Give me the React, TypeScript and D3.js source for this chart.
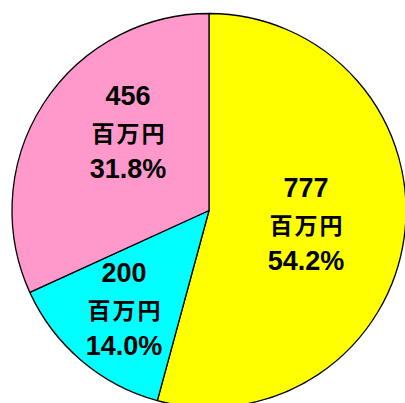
import React from "react";
import * as d3 from "d3";

const categories = ["A", "B", "C"];
const values = [777, 200, 456];
const valueLabels = ["777", "200", "456"];
const unitLabel = "百万円";
const percentLabels = ["54.2%", "14.0%", "31.8%"];
const colors = ["#FFFF00", "#00FFFF", "#FF99CC"];

// label anchor (center of middle line baseline) offsets from pie center
const labelOffsets: [number, number][] = [
  [97, 25],
  [-85, 110],
  [-81, -67],
];

const W = 405;
const H = 403;
const cx = 209;
const cy = 210.5;
const R = 197;

export default function App() {
  const pie = d3.pie<number>().sort(null).startAngle(0).endAngle(2 * Math.PI);
  const arcs = pie(values);
  const arc = d3.arc<d3.PieArcDatum<number>>().innerRadius(0).outerRadius(R);
  const numFont = "'Liberation Sans', Arial, sans-serif";
  const cjkFont = "'Noto Sans CJK JP', sans-serif";
  return (
    <svg
      width={W}
      height={H}
      style={{ position: "fixed", left: 0, top: 0, background: "#fff" }}
    >
      <g transform={`translate(${cx},${cy})`}>
        {arcs.map((a, i) => (
          <path
            key={categories[i]}
            d={arc(a) || ""}
            fill={colors[i]}
            stroke="#000"
            strokeWidth={1.3}
            strokeLinejoin="round"
          />
        ))}
        {arcs.map((a, i) => {
          const [dx, dy] = labelOffsets[i];
          return (
            <g key={"l" + i} transform={`translate(${dx},${dy})`} textAnchor="middle" fill="#000">
              <text y={-39} fontFamily={numFont} fontWeight="bold" fontSize={27}>
                {valueLabels[i]}
              </text>
              <text x={1} y={-2} fontFamily={cjkFont} fontWeight="bold" fontSize={23} letterSpacing={2}>
                {unitLabel}
              </text>
              <text y={34} fontFamily={numFont} fontWeight="bold" fontSize={27}>
                {percentLabels[i]}
              </text>
            </g>
          );
        })}
      </g>
    </svg>
  );
}
